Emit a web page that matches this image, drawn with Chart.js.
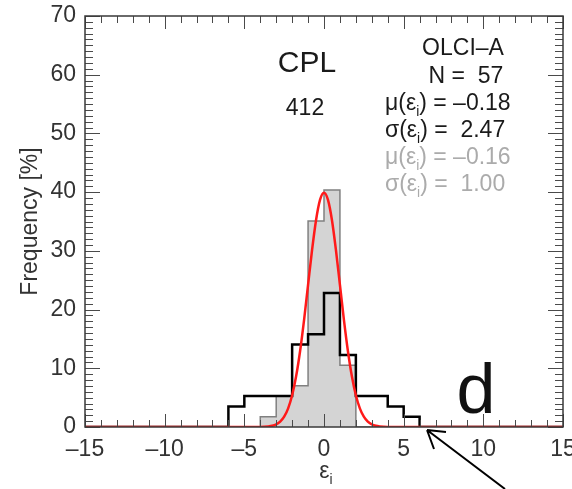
<!DOCTYPE html>
<html>
<head>
<meta charset="utf-8">
<script src="https://cdn.jsdelivr.net/npm/chart.js@4.4.1/dist/chart.umd.min.js"></script>
<style>
  body { margin: 0; background: #fff; }
  #wrap { width: 572px; height: 489px; }
</style>
</head>
<body>
<div id="wrap"><canvas id="histChart" width="572" height="489"></canvas></div>
<script>
// left bin edges and frequency [%] of each bin (value holds until next edge)
const grayEdges = [-15, -4, -3, -2, -1, 0, 1, 2, 15];
const grayFreq  = [0, 1.75, 5.26, 7.02, 35.09, 40.35, 10.53, 0, 0];

const blackEdges = [-15, -6, -5, -2, -1, 0, 1, 2, 4, 5, 6, 15];
const blackFreq  = [0, 3.51, 5.26, 14.04, 15.79, 22.81, 12.28, 5.26, 3.51, 1.75, 0, 0];

// red fitted curve
const curveX = [-15, -4, -3.5, -3.25, -3, -2.75, -2.5, -2.25, -2, -1.75, -1.5, -1.25, -1, -0.75, -0.5, -0.25,
                0, 0.25, 0.5, 0.75, 1, 1.25, 1.5, 1.75, 2, 2.25, 2.5, 2.75, 3, 3.25, 3.5, 4, 15];
const curveY = [0, 0.01, 0.09, 0.2, 0.44, 0.91, 1.75, 3.17, 5.4, 8.63, 12.95, 18.26, 24.2, 30.11, 35.21, 38.67,
                39.89, 38.67, 35.21, 30.11, 24.2, 18.26, 12.95, 8.63, 5.4, 3.17, 1.75, 0.91, 0.44, 0.2, 0.09, 0.01, 0];

const FONT = '"Liberation Sans", Arial, Helvetica, sans-serif';

const toPts = (xs, ys) => xs.map((x, i) => ({ x: x, y: ys[i] }));

// draw text with optional subscript pieces
function richText(ctx, parts, x, y, size, color, align) {
    ctx.save();
    ctx.fillStyle = color;
    ctx.textBaseline = "alphabetic";
    ctx.textAlign = "left";
    let w = 0;
    parts.forEach(p => {
        ctx.font = (p.sub ? size * 0.6 : size) + "px " + FONT;
        w += ctx.measureText(p.t).width;
    });
    let cx = align === "center" ? x - w / 2 : x;
    parts.forEach(p => {
        ctx.font = (p.sub ? size * 0.6 : size) + "px " + FONT;
        ctx.fillText(p.t, cx, p.sub ? y + size * 0.28 : y);
        cx += ctx.measureText(p.t).width;
    });
    ctx.restore();
}

const framePlugin = {
    id: "frame",
    afterDatasetsDraw(chart) {
        const ctx = chart.ctx;
        const a = chart.chartArea;
        const xs = chart.scales.x, ys = chart.scales.y;
        ctx.save();
        ctx.strokeStyle = "#4a4a4a";
        ctx.lineWidth = 1;
        ctx.beginPath();
        for (let v = -15; v <= 15; v++) {
            const px = Math.round(xs.getPixelForValue(v)) + 0.5;
            const len = v % 5 === 0 ? 13 : 7;
            ctx.moveTo(px, a.bottom); ctx.lineTo(px, a.bottom - len);
            ctx.moveTo(px, a.top); ctx.lineTo(px, a.top + len);
        }
        for (let v = 0; v <= 70; v++) {
            const py = Math.round(ys.getPixelForValue(v)) + 0.5;
            const len = v % 10 === 0 ? 15 : 8;
            ctx.moveTo(a.left, py); ctx.lineTo(a.left + len, py);
            ctx.moveTo(a.right, py); ctx.lineTo(a.right - len, py);
        }
        ctx.stroke();
        ctx.lineWidth = 1.5;
        ctx.strokeStyle = "#3a3a3a";
        ctx.strokeRect(a.left, a.top, a.right - a.left, a.bottom - a.top);
        ctx.restore();
    },
    afterDraw(chart) {
        const ctx = chart.ctx;
        const dark = "#1a1a1a", light = "#ababab";
        richText(ctx, [{ t: "CPL" }], 307, 72, 30, dark, "center");
        richText(ctx, [{ t: "412" }], 305, 115, 23, dark, "center");
        richText(ctx, [{ t: "OLCI\u2013A" }], 463, 55, 23, dark, "center");
        richText(ctx, [{ t: "N =  57" }], 466, 83, 23, dark, "center");
        richText(ctx, [{ t: "\u03bc(\u03b5" }, { t: "i", sub: true }, { t: ") = \u20130.18" }], 385, 110, 23, dark, "left");
        richText(ctx, [{ t: "\u03c3(\u03b5" }, { t: "i", sub: true }, { t: ") =  2.47" }], 385, 137, 23, dark, "left");
        richText(ctx, [{ t: "\u03bc(\u03b5" }, { t: "i", sub: true }, { t: ") = \u20130.16" }], 385, 164, 23, light, "left");
        richText(ctx, [{ t: "\u03c3(\u03b5" }, { t: "i", sub: true }, { t: ") =  1.00" }], 385, 191, 23, light, "left");
        richText(ctx, [{ t: "d" }], 476, 413, 70, "#111", "center");
        richText(ctx, [{ t: "\u03b5" }, { t: "i", sub: true }], 326, 478, 23, "#333", "center");

        // arrow pointing at the axis
        ctx.save();
        ctx.strokeStyle = "#000";
        ctx.lineWidth = 2;
        ctx.beginPath();
        ctx.moveTo(505, 489); ctx.lineTo(427, 430);
        ctx.moveTo(427, 430); ctx.lineTo(446, 432);
        ctx.moveTo(427, 430); ctx.lineTo(434, 449);
        ctx.stroke();
        ctx.restore();
    }
};

const dash = v => v < 0 ? "\u2013" + Math.abs(v) : String(v);

new Chart(document.getElementById("histChart"), {
    type: "line",
    data: {
        datasets: [
            {
                label: "fit",
                data: toPts(curveX, curveY),
                borderColor: "#ff1a1a",
                borderWidth: 2.5,
                pointRadius: 0,
                cubicInterpolationMode: "monotone",
                fill: false,
                order: 0
            },
            {
                label: "original",
                data: toPts(blackEdges, blackFreq),
                borderColor: "#000",
                borderWidth: 2.5,
                pointRadius: 0,
                stepped: "before",
                fill: false,
                order: 1
            },
            {
                label: "normalised",
                data: toPts(grayEdges, grayFreq),
                borderColor: "#808080",
                backgroundColor: "#d4d4d4",
                borderWidth: 1.5,
                pointRadius: 0,
                stepped: "before",
                fill: "origin",
                order: 2
            }
        ]
    },
    options: {
        responsive: false,
        animation: false,
        layout: { autoPadding: false, padding: { left: 0, top: 16, right: 9, bottom: 0 } },
        plugins: { legend: { display: false }, tooltip: { enabled: false } },
        scales: {
            x: {
                type: "linear",
                min: -15, max: 15,
                afterFit: s => { s.height = 62; s.paddingLeft = 0; s.paddingRight = 0; },
                grid: { display: false, drawTicks: false },
                border: { display: false },
                ticks: {
                    stepSize: 5,
                    padding: 9,
                    color: "#333",
                    font: { family: FONT, size: 23 },
                    maxRotation: 0,
                    callback: dash
                }
            },
            y: {
                min: 0, max: 70,
                afterFit: s => { s.width = 85; s.paddingTop = 0; s.paddingBottom = 0; },
                grid: { display: false, drawTicks: false },
                border: { display: false },
                ticks: {
                    stepSize: 10,
                    padding: 9,
                    color: "#333",
                    font: { family: FONT, size: 23 }
                },
                title: {
                    display: true,
                    text: "Frequency [%]",
                    color: "#333",
                    font: { family: FONT, size: 23 },
                    padding: { top: 17, bottom: 0 }
                }
            }
        }
    },
    plugins: [framePlugin]
});
</script>
</body>
</html>
